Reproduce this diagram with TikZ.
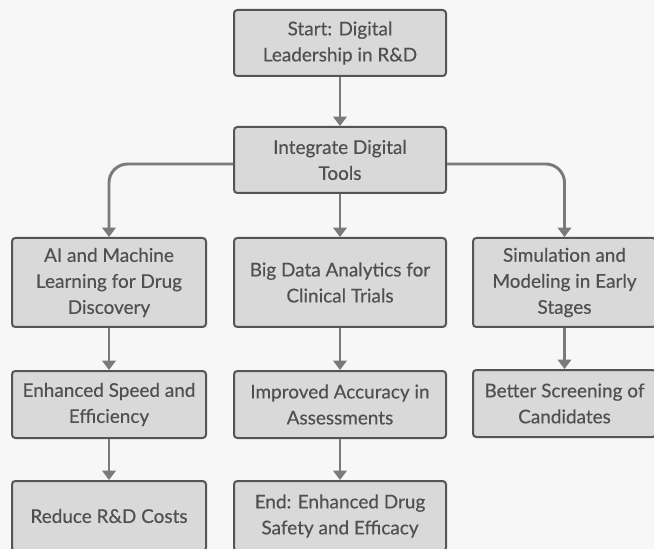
\documentclass[tikz,border=0pt]{standalone}
\usepackage{fontspec}
\setmainfont{Lato}
\newfontfamily\boxfont{Lato}[FakeBold=0.35]
\usetikzlibrary{arrows.meta}
\definecolor{bg}{HTML}{F7F7F7}
\definecolor{boxfill}{HTML}{D9D9D9}
\definecolor{boxline}{HTML}{555555}
\definecolor{txt}{HTML}{505050}
\definecolor{arr}{HTML}{7A7A7A}
\begin{document}
\begin{tikzpicture}[x=0.75pt,y=-0.75pt,
  box/.style={draw=boxline, fill=boxfill, line width=1.5pt, rounded corners=2.5pt,
    text=txt, align=center, font=\boxfont\fontsize{14.2}{19.5}\selectfont, inner sep=0pt},
  conn/.style={draw=arr, line width=2.2pt, -{Triangle[length=7pt,width=10pt]}},
  branch/.style={conn, rounded corners=14pt}]
\fill[bg] (0,0) rectangle (654,549);
\useasboundingbox (0,0) rectangle (654,549);
\node[box, minimum width=212*0.75pt, minimum height=66*0.75pt] (start) at (340,43) {Start: Digital\\Leadership in R\&D};
\node[box, minimum width=212*0.75pt, minimum height=66*0.75pt] (int) at (340,160) {Integrate Digital\\Tools};
\node[box, minimum width=194*0.75pt, minimum height=89*0.75pt] (ai) at (109,282.5) {AI and Machine\\Learning for Drug\\Discovery};
\node[box, minimum width=212*0.75pt, minimum height=89*0.75pt] (bd) at (340,282.5) {Big Data Analytics for\\Clinical Trials};
\node[box, minimum width=183*0.75pt, minimum height=89*0.75pt] (sim) at (564.5,282.5) {Simulation and\\Modeling in Early\\Stages};
\node[box, minimum width=194*0.75pt, minimum height=67*0.75pt] (enh) at (109,404.5) {Enhanced Speed and\\Efficiency};
\node[box, minimum width=212*0.75pt, minimum height=67*0.75pt] (imp) at (340,404.5) {Improved Accuracy in\\Assessments};
\node[box, minimum width=183*0.75pt, minimum height=67*0.75pt] (bet) at (564.5,403.5) {Better Screening of\\Candidates};
\node[box, minimum width=194*0.75pt, minimum height=70*0.75pt] (red) at (109,516) {Reduce R\&D Costs};
\node[box, minimum width=212*0.75pt, minimum height=70*0.75pt] (end) at (340,516) {End: Enhanced Drug\\Safety and Efficacy};
\draw[conn] (start) -- (int);
\draw[conn] (int) -- (bd);
\draw[branch] ([yshift=-4*0.75pt]int.west) -| (ai.north);
\draw[branch] ([yshift=-4*0.75pt]int.east) -| (sim.north);
\draw[conn] (ai) -- (enh);
\draw[conn] (enh) -- (red);
\draw[conn] (bd) -- (imp);
\draw[conn] (imp) -- (end);
\draw[conn] (sim) -- (bet);
\end{tikzpicture}
\end{document}
